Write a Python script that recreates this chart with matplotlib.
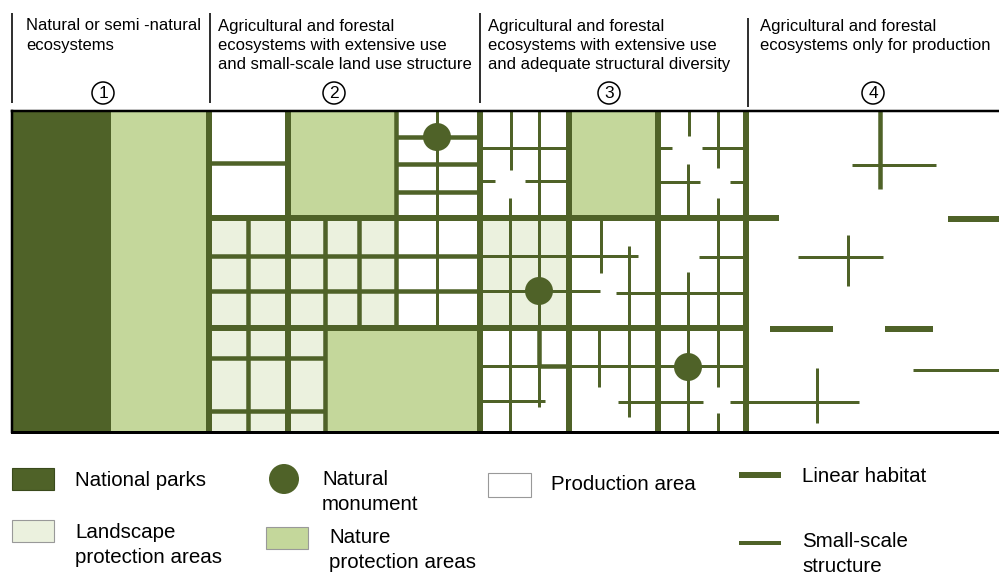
import matplotlib.pyplot as plt
from matplotlib.patches import Rectangle, Circle

# colours (olive green shades)
DARK = "#4F6228"
NATURE = "#C4D79B"
LANDSCAPE = "#EBF1DE"

# header of the four land use types
header_texts = [
    "Natural or semi -natural\necosystems",
    "Agricultural and forestal\necosystems with extensive use\nand small-scale land use structure",
    "Agricultural and forestal\necosystems with extensive use\nand adequate structural diversity",
    "Agricultural and forestal\necosystems only for production",
]
header_x = [26, 218, 488, 760]
number_labels = ["1", "2", "3", "4"]
number_x = [103, 334, 609, 873]
separator_x = [12, 210, 480, 748]

# areas in the schematic landscape (x0, x1, y0, y1) in map units
national_parks = [(12, 111, 110, 432)]
nature_areas = [(111, 209, 110, 432), (288, 396, 110, 218), (325, 480, 328, 432),
                (569, 658, 110, 218)]
landscape_areas = [(209, 396, 218, 328), (209, 325, 328, 432), (480, 569, 218, 328)]

# linear habitats: horizontal (y, x0, x1) and vertical (x, y0, y1)
linear_h = [(218, 209, 779), (328, 209, 746), (219, 948, 999),
            (329, 770, 833), (329, 885, 933)]
linear_v = [(209, 110, 432), (288, 110, 432), (480, 110, 432), (569, 110, 432),
            (658, 110, 432), (746, 110, 432)]

# hedges / strips of medium width
medium_h = [(163, 209, 288), (256, 209, 480), (291, 209, 480), (358, 209, 325),
            (411, 209, 325), (137, 396, 480), (164, 396, 480), (192, 396, 480),
            (366, 539, 569)]
medium_v = [(396, 110, 328), (248, 218, 432), (325, 328, 432), (325, 218, 328),
            (359, 218, 328), (880, 110, 189), (539, 328, 367)]

# small-scale structures
small_h = [(148, 480, 569), (181, 480, 495), (181, 525, 569), (256, 480, 638),
           (291, 480, 600), (366, 480, 746), (401, 480, 545), (293, 616, 746),
           (257, 699, 746), (402, 618, 703), (148, 660, 672), (148, 702, 746),
           (182, 660, 700), (182, 730, 746), (402, 730, 859), (165, 852, 936),
           (257, 798, 883), (370, 913, 999)]
small_v = [(437, 110, 328), (511, 110, 170), (539, 110, 407), (510, 198, 432),
           (601, 218, 273), (629, 246, 417), (599, 328, 387), (689, 110, 136),
           (718, 110, 168), (688, 164, 218), (718, 198, 387), (688, 272, 432),
           (718, 413, 432), (848, 235, 286), (817, 368, 423)]

# natural monuments (x, y)
monuments = [(437, 137), (539, 291), (688, 367)]

# legend entries
legend_labels = ["National parks", "Landscape\nprotection areas", "Natural\nmonument",
                 "Nature\nprotection areas", "Production area", "Linear habitat",
                 "Small-scale\nstructure"]


def px(w):
    return w * 0.72


fig = plt.figure(figsize=(9.99, 5.77), dpi=100)
ax = fig.add_axes([0, 0, 1, 1])
ax.set_xlim(0, 999)
ax.set_ylim(577, 0)
ax.axis("off")

font = ["Liberation Sans", "DejaVu Sans"]

# header
for txt, x in zip(header_texts, header_x):
    ax.text(x, 18.5, txt, fontsize=12.0, family=font, va="top", ha="left",
            linespacing=1.34)
for lab, x in zip(number_labels, number_x):
    ax.add_patch(Circle((x, 93), 11, facecolor="white", edgecolor="black", lw=1.1))
    ax.text(x, 94, lab, fontsize=12.5, family=font, ha="center", va="center")
for i, x in enumerate(separator_x):
    y0, y1 = (18, 107) if i == 3 else (13, 103)
    ax.plot([x, x], [y0, y1], color="black", lw=px(1.6), solid_capstyle="butt")

# areas
for areas, col in [(national_parks, DARK), (nature_areas, NATURE),
                   (landscape_areas, LANDSCAPE)]:
    for x0, x1, y0, y1 in areas:
        ax.add_patch(Rectangle((x0, y0), x1 - x0, y1 - y0, facecolor=col,
                               edgecolor="none", zorder=1))


def draw_lines(hl, vl, width):
    for y, x0, x1 in hl:
        ax.plot([x0, x1], [y, y], color=DARK, lw=px(width),
                solid_capstyle="butt", zorder=2)
    for x, y0, y1 in vl:
        ax.plot([x, x], [y0, y1], color=DARK, lw=px(width),
                solid_capstyle="butt", zorder=2)


draw_lines(small_h, small_v, 3)
draw_lines(medium_h, medium_v, 4.5)
draw_lines(linear_h, linear_v, 6)

for x, y in monuments:
    ax.add_patch(Circle((x, y), 14, facecolor=DARK, edgecolor="none", zorder=3))

# frame
ax.plot([12, 999], [111, 111], color="black", lw=px(2.5), zorder=4)
ax.plot([12, 999], [432, 432], color="black", lw=px(3), zorder=4)
ax.plot([12, 12], [111, 432], color="black", lw=px(2.5), zorder=4)

# legend
lfs = 14.8
ls = 1.42
ax.add_patch(Rectangle((12, 468), 42, 22, facecolor=DARK, edgecolor="#3a4a1c", lw=0.8))
ax.text(75, 481, legend_labels[0], fontsize=lfs, family=font, va="center")
ax.add_patch(Rectangle((12, 520), 42, 22, facecolor=LANDSCAPE, edgecolor="#999999", lw=0.8))
ax.text(75, 545, legend_labels[1], fontsize=lfs, family=font, va="center",
        linespacing=ls)
ax.add_patch(Circle((284, 479), 15, facecolor=DARK, edgecolor="none"))
ax.text(322, 492, legend_labels[2], fontsize=lfs, family=font, va="center",
        linespacing=ls)
ax.add_patch(Rectangle((266, 527), 42, 22, facecolor=NATURE, edgecolor="#999999", lw=0.8))
ax.text(329, 550, legend_labels[3], fontsize=lfs, family=font, va="center",
        linespacing=ls)
ax.add_patch(Rectangle((488, 473), 43, 24, facecolor="white", edgecolor="#999999", lw=0.8))
ax.text(551, 484, legend_labels[4], fontsize=lfs, family=font, va="center")
ax.plot([739, 781], [475, 475], color=DARK, lw=px(6), solid_capstyle="butt")
ax.text(802, 477, legend_labels[5], fontsize=lfs, family=font, va="center")
ax.plot([739, 781], [543, 543], color=DARK, lw=px(4), solid_capstyle="butt")
ax.text(802, 554, legend_labels[6], fontsize=lfs, family=font, va="center",
        linespacing=ls)

fig.savefig("out.png", dpi=100)
